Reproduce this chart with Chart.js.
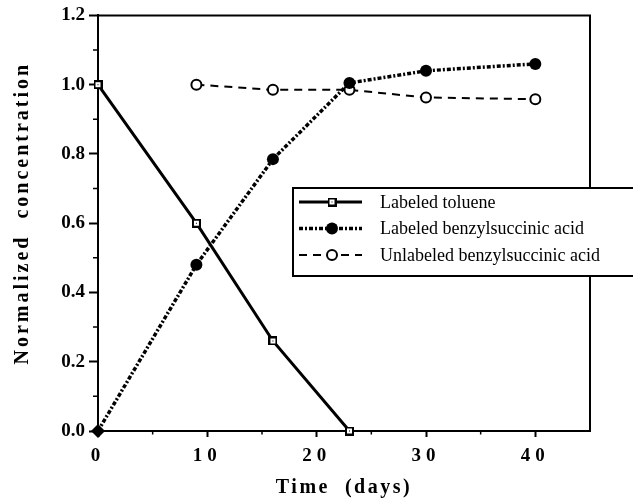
<!DOCTYPE html>
<html><head><meta charset="utf-8">
<script src="https://cdn.jsdelivr.net/npm/chart.js@4.4.0/dist/chart.umd.min.js"></script>
<style>html,body{margin:0;padding:0;background:#fff}canvas{display:block}</style>
</head><body>
<canvas id="c" width="633" height="503"></canvas>
<script>
const seriesNames = ['Labeled toluene', 'Labeled benzylsuccinic acid', 'Unlabeled benzylsuccinic acid'];
const tolueneDays = [0, 9, 16, 23];
const tolueneValues = [1.00, 0.60, 0.26, 0.00];
const labeledDays = [0, 9, 16, 23, 30, 40];
const labeledValues = [0.00, 0.48, 0.785, 1.005, 1.04, 1.06];
const unlabeledDays = [9, 16, 23, 30, 40];
const unlabeledValues = [1.00, 0.985, 0.985, 0.963, 0.958];
const xTicks = [0, 10, 20, 30, 40];
const xMinorTicks = [5, 15, 25, 35];
const yTicks = [0, 0.2, 0.4, 0.6, 0.8, 1.0, 1.2];
const yMinorTicks = [0.1, 0.3, 0.5, 0.7, 0.9, 1.1];
const xTitle = 'Time  (days)';
const yTitle = 'Normalized  concentration';

const SERIF = '"Liberation Serif", "Times New Roman", serif';

function squareMarker() {
  const c = document.createElement('canvas');
  c.width = 9; c.height = 9;
  const g = c.getContext('2d');
  g.fillStyle = '#000'; g.fillRect(0, 0, 9, 9);
  g.fillStyle = '#fff'; g.fillRect(2, 2, 5, 5);
  g.fillStyle = '#000'; g.fillRect(4, 4, 1, 1);
  return c;
}
const sq = squareMarker();

function pts(xs, ys) { return xs.map((x, i) => ({x: x, y: ys[i]})); }

const decor = {
  id: 'decor',
  afterDraw(chart) {
    const ctx = chart.ctx, a = chart.chartArea, x = chart.scales.x, y = chart.scales.y;
    ctx.save();
    ctx.strokeStyle = '#000';
    ctx.lineWidth = 2;
    ctx.beginPath();
    ctx.moveTo(a.left, a.top); ctx.lineTo(a.right, a.top); ctx.lineTo(a.right, a.bottom);
    ctx.stroke();
    ctx.lineWidth = 1.5;
    ctx.beginPath();
    xMinorTicks.forEach(v => { const p = x.getPixelForValue(v); ctx.moveTo(p, a.bottom); ctx.lineTo(p, a.bottom + 3.5); });
    yMinorTicks.forEach(v => { const p = y.getPixelForValue(v); ctx.moveTo(a.left, p); ctx.lineTo(a.left - 5, p); });
    ctx.stroke();
    // legend
    const L = {left: 293, top: 188, right: 660, bottom: 276};
    ctx.fillStyle = '#fff';
    ctx.fillRect(L.left, L.top, L.right - L.left, L.bottom - L.top);
    ctx.lineWidth = 2;
    ctx.strokeRect(L.left, L.top, L.right - L.left, L.bottom - L.top);
    chart.data.datasets.forEach((ds, i) => {
      const yy = 202 + i * 26.5;
      ctx.strokeStyle = '#000';
      ctx.lineWidth = ds.borderWidth;
      ctx.setLineDash(ds.borderDash || []);
      ctx.beginPath(); ctx.moveTo(299, yy); ctx.lineTo(362, yy); ctx.stroke();
      ctx.setLineDash([]);
      if (i === 0) {
        ctx.drawImage(sq, 332 - 4.5, yy - 4.5);
      } else if (i === 1) {
        ctx.fillStyle = '#000'; ctx.beginPath(); ctx.arc(332, yy, 6, 0, Math.PI * 2); ctx.fill();
      } else {
        ctx.fillStyle = '#fff'; ctx.lineWidth = 2; ctx.beginPath(); ctx.arc(332, yy, 5, 0, Math.PI * 2); ctx.fill(); ctx.stroke();
      }
      ctx.fillStyle = '#000';
      ctx.font = '18px ' + SERIF;
      ctx.textBaseline = 'middle';
      ctx.textAlign = 'left';
      ctx.fillText(ds.label, 380, yy + 1);
    });
    ctx.restore();
  }
};

function spacedDraw(titleLS, labelLS, titleShift) {
  return function (ca) {
    if (!this._isVisible()) return;
    const c = this.ctx;
    this.drawBackground();
    this.drawGrid(ca);
    this.drawBorder();
    c.save(); c.letterSpacing = titleLS; c.translate(0, titleShift); this.drawTitle(); c.restore();
    c.save(); c.letterSpacing = labelLS; this.drawLabels(ca); c.restore();
  };
}

new Chart(document.getElementById('c'), {
  type: 'line',
  data: {
    datasets: [
      {
        label: seriesNames[0],
        data: pts(tolueneDays, tolueneValues),
        borderColor: '#000', borderWidth: 3,
        pointStyle: sq, pointRadius: 4.5,
        backgroundColor: '#fff', clip: false, tension: 0
      },
      {
        label: seriesNames[1],
        data: pts(labeledDays, labeledValues),
        borderColor: '#000', borderWidth: 3.5, borderDash: [4, 2, 2, 2],
        pointStyle: ['rectRot', 'circle', 'circle', 'circle', 'circle', 'circle'],
        pointRadius: [7, 6, 6, 6, 6, 6],
        pointBackgroundColor: '#000', pointBorderColor: '#000', pointBorderWidth: 0,
        backgroundColor: '#000', clip: false, tension: 0
      },
      {
        label: seriesNames[2],
        data: pts(unlabeledDays, unlabeledValues),
        borderColor: '#000', borderWidth: 2, borderDash: [8, 6],
        pointStyle: 'circle', pointRadius: 5,
        pointBackgroundColor: '#fff', pointBorderColor: '#000', pointBorderWidth: 2,
        backgroundColor: '#fff', clip: false, tension: 0
      }
    ]
  },
  options: {
    responsive: false,
    animation: false,
    events: [],
    layout: {padding: {top: 15, right: 43, left: 0, bottom: 0}},
    plugins: {legend: {display: false}, tooltip: {enabled: false}},
    scales: {
      x: {
        type: 'linear', min: 0, max: 45,
        afterBuildTicks: s => { s.ticks = xTicks.map(v => ({value: v})); },
        afterFit: s => { s.height = 72; s.draw = spacedDraw('2.5px', '5px', 0); },
        ticks: {
          color: '#000', padding: 8, maxRotation: 0, autoSkip: false,
          font: {family: SERIF, size: 19, weight: 'bold'},
          callback: v => String(v)
        },
        grid: {drawOnChartArea: false, drawTicks: true, tickLength: 6, tickWidth: 2, tickColor: '#000'},
        border: {color: '#000', width: 2},
        title: {display: true, text: xTitle, color: '#000', font: {family: SERIF, size: 20, weight: 'bold'}, padding: {top: 0, bottom: 3}}
      },
      y: {
        type: 'linear', min: 0, max: 1.2,
        afterBuildTicks: s => { s.ticks = yTicks.map(v => ({value: v})); },
        afterFit: s => { s.width = 98; s.draw = spacedDraw('3px', '0px', -10); },
        ticks: {
          color: '#000', padding: 4, autoSkip: false,
          font: {family: SERIF, size: 19, weight: 'bold'},
          callback: v => Number(v).toFixed(1)
        },
        grid: {drawOnChartArea: false, drawTicks: true, tickLength: 9, tickWidth: 2, tickColor: '#000'},
        border: {color: '#000', width: 2},
        title: {display: true, text: yTitle, color: '#000', font: {family: SERIF, size: 20, weight: 'bold'}, padding: {top: 11, bottom: 0}}
      }
    }
  },
  plugins: [decor]
});
</script>
</body></html>
